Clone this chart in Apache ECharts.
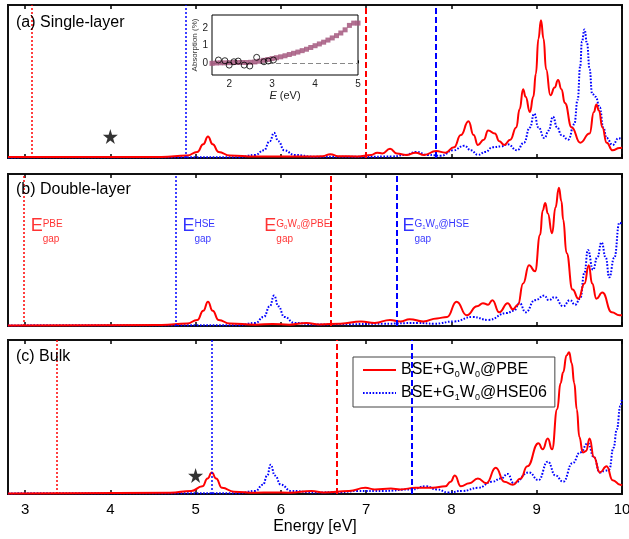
<!DOCTYPE html>
<html lang="en">
<head>
<meta charset="UTF-8">
<title>BSE absorption spectra</title>
<style type="text/css">
	body{margin:0;background:#fff}
	#main{width:629px;height:539px}
</style>
<script src="https://cdn.jsdelivr.net/npm/echarts@6.0.0/dist/echarts.min.js"></script>
</head>
<body>
<div id="main"></div>
<script type="text/javascript">
var FONT = 'Liberation Sans, Arial, sans-serif';
var RED = '#ff0000', BLUE = '#0000ff';

var xTicks = [3, 4, 5, 6, 7, 8, 9, 10];
var panelNames = ['(a) Single-layer', '(b) Double-layer', '(c) Bulk'];
var nameA = 'BSE+G0W0@PBE', nameB = 'BSE+G1W0@HSE06';

// spectra, [energy eV, intensity as fraction of panel height]
var pbeA = [[2.8,0.006],[4.6,0.007],[4.9,0.016],[5.02,0.04],[5.09,0.09],[5.145,0.14],[5.2,0.09],[5.27,0.04],[5.4,0.016],[5.7,0.009],[6.3,0.009],[6.49,0.012],[6.58,0.025],[6.67,0.012],[6.9,0.01],[7.06,0.02],[7.13,0.035],[7.19,0.03],[7.28,0.06],[7.36,0.03],[7.47,0.02],[7.58,0.035],[7.68,0.02],[7.82,0.045],[7.93,0.035],[8.03,0.07],[8.11,0.15],[8.2,0.24],[8.26,0.15],[8.31,0.085],[8.38,0.12],[8.43,0.18],[8.51,0.16],[8.56,0.11],[8.62,0.085],[8.69,0.12],[8.76,0.2],[8.8,0.32],[8.84,0.45],[8.87,0.4],[8.92,0.30],[8.96,0.4],[8.99,0.55],[9.02,0.78],[9.05,0.90],[9.08,0.78],[9.11,0.58],[9.16,0.41],[9.21,0.46],[9.25,0.51],[9.29,0.45],[9.33,0.36],[9.41,0.20],[9.51,0.10],[9.62,0.16],[9.67,0.3],[9.7,0.35],[9.73,0.31],[9.77,0.2],[9.82,0.10],[9.89,0.05],[9.97,0.065],[10,0.07]];
var hseA = [[2.8,0.004],[5.5,0.005],[5.7,0.02],[5.8,0.05],[5.87,0.11],[5.92,0.165],[5.97,0.11],[6.04,0.05],[6.16,0.02],[6.4,0.008],[7.0,0.008],[7.3,0.01],[7.46,0.02],[7.59,0.04],[7.72,0.02],[7.88,0.015],[8.02,0.05],[8.15,0.08],[8.23,0.05],[8.31,0.02],[8.4,0.04],[8.48,0.07],[8.58,0.075],[8.66,0.09],[8.77,0.05],[8.85,0.1],[8.92,0.2],[8.97,0.29],[9.02,0.2],[9.09,0.13],[9.14,0.18],[9.19,0.27],[9.24,0.2],[9.29,0.15],[9.37,0.12],[9.44,0.22],[9.48,0.38],[9.51,0.6],[9.53,0.76],[9.56,0.84],[9.59,0.75],[9.62,0.58],[9.65,0.42],[9.69,0.40],[9.74,0.33],[9.78,0.2],[9.82,0.13],[9.89,0.085],[9.96,0.13],[10,0.12]];
var pbeB = [[2.8,0.004],[4.6,0.006],[4.9,0.016],[5.02,0.04],[5.09,0.1],[5.145,0.16],[5.2,0.1],[5.27,0.04],[5.4,0.016],[5.7,0.009],[5.9,0.013],[6.1,0.009],[6.3,0.02],[6.45,0.01],[6.7,0.015],[6.94,0.03],[7.1,0.02],[7.28,0.04],[7.4,0.03],[7.51,0.045],[7.67,0.03],[7.83,0.05],[7.95,0.06],[8.06,0.16],[8.18,0.07],[8.3,0.13],[8.37,0.15],[8.43,0.14],[8.48,0.17],[8.56,0.09],[8.66,0.15],[8.72,0.11],[8.78,0.14],[8.84,0.28],[8.91,0.40],[8.98,0.36],[9.04,0.6],[9.07,0.76],[9.1,0.81],[9.13,0.74],[9.18,0.61],[9.22,0.78],[9.26,0.91],[9.29,0.82],[9.31,0.7],[9.35,0.48],[9.42,0.24],[9.49,0.18],[9.56,0.28],[9.61,0.40],[9.65,0.28],[9.7,0.18],[9.77,0.22],[9.88,0.09],[9.97,0.07],[10,0.07]];
var hseB = [[2.8,0.004],[5.5,0.005],[5.7,0.02],[5.8,0.06],[5.87,0.13],[5.92,0.20],[5.97,0.13],[6.04,0.06],[6.16,0.02],[6.4,0.01],[6.8,0.012],[7.2,0.015],[7.6,0.02],[7.8,0.015],[8.03,0.03],[8.25,0.06],[8.43,0.04],[8.65,0.085],[8.73,0.1],[8.8,0.15],[8.87,0.09],[8.98,0.17],[9.09,0.2],[9.14,0.17],[9.21,0.19],[9.31,0.13],[9.39,0.17],[9.45,0.14],[9.51,0.18],[9.56,0.35],[9.6,0.5],[9.66,0.37],[9.71,0.45],[9.76,0.55],[9.81,0.45],[9.85,0.32],[9.91,0.45],[9.97,0.68],[10,0.67]];
var pbeC = [[2.8,0.004],[4.7,0.008],[4.95,0.02],[5.08,0.05],[5.14,0.1],[5.19,0.14],[5.24,0.1],[5.31,0.04],[5.45,0.015],[5.7,0.008],[5.9,0.01],[6.1,0.008],[6.36,0.02],[6.5,0.01],[6.8,0.02],[6.99,0.04],[7.1,0.03],[7.29,0.035],[7.4,0.03],[7.58,0.04],[7.78,0.04],[7.93,0.05],[7.99,0.08],[8.04,0.12],[8.11,0.05],[8.21,0.07],[8.31,0.10],[8.41,0.07],[8.52,0.17],[8.62,0.08],[8.72,0.06],[8.81,0.10],[8.89,0.18],[9.02,0.33],[9.07,0.29],[9.13,0.36],[9.18,0.29],[9.24,0.55],[9.28,0.72],[9.31,0.79],[9.35,0.9],[9.38,0.92],[9.41,0.85],[9.44,0.72],[9.47,0.55],[9.5,0.37],[9.54,0.27],[9.58,0.28],[9.62,0.36],[9.67,0.24],[9.74,0.14],[9.82,0.18],[9.89,0.09],[9.98,0.06],[10,0.055]];
var hseC = [[2.8,0.004],[5.5,0.005],[5.7,0.02],[5.79,0.06],[5.84,0.12],[5.88,0.19],[5.93,0.12],[6.0,0.06],[6.12,0.02],[6.4,0.01],[6.7,0.012],[6.9,0.02],[7.2,0.02],[7.53,0.03],[7.7,0.05],[7.83,0.03],[7.96,0.01],[8.13,0.02],[8.31,0.04],[8.48,0.08],[8.58,0.1],[8.66,0.13],[8.73,0.07],[8.91,0.14],[9.02,0.09],[9.13,0.21],[9.22,0.12],[9.31,0.08],[9.42,0.2],[9.51,0.27],[9.6,0.33],[9.67,0.24],[9.74,0.14],[9.8,0.15],[9.85,0.16],[9.9,0.3],[9.94,0.42],[9.98,0.57],[10,0.62]];

// band gaps: PBE, HSE, G0W0@PBE, G1W0@HSE
var gapA = [3.085, 4.875, 6.985, 7.82];
var gapB = [2.99, 4.77, 6.58, 7.36];
var gapC = [3.37, 5.19, 6.65, 7.53];

var starA = [[4.0, 0.14]];
var starC = [[5.0, 0.12]];

// gap labels in panel (b): [energy, height, superscript]
var notes = [[3.06, 0.62, 'PBE'], [4.84, 0.62, 'HSE'], [5.80, 0.62, 'G0W0@PBE'], [7.42, 0.62, 'G1W0@HSE']];
var noteColors = [RED, BLUE, RED, BLUE];

// inset: measured absorption (%)
var expE = [1.6,1.7,1.8,1.9,2.0,2.1,2.2,2.3,2.4,2.5,2.6,2.7,2.8,2.9,3.0,3.1,3.2,3.3,3.4,3.5,3.6,3.7,3.8,3.9,4.0,4.1,4.2,4.3,4.4,4.5,4.6,4.7,4.8,4.9,5.0];
var expAbs = [0.0,0.02,0.03,0.03,0.04,0.05,0.05,0.05,0.05,0.06,0.08,0.12,0.17,0.22,0.27,0.32,0.37,0.43,0.5,0.57,0.64,0.72,0.8,0.9,1.0,1.1,1.2,1.32,1.44,1.57,1.72,1.9,2.15,2.28,2.28];
var circE = [1.75,1.90,2.0,2.11,2.21,2.35,2.48,2.64,2.81,2.91,3.03];
var circAbs = [0.19,0.15,-0.1,0.09,0.13,-0.1,-0.15,0.34,0.09,0.13,0.19];

var pbe = [pbeA, pbeB, pbeC], hse = [hseA, hseB, hseC], gaps = [gapA, gapB, gapC];
var gapStyles = [
	{color: RED, type: [2, 2], width: 1.5},
	{color: BLUE, type: [2, 2], width: 1.5},
	{color: RED, type: [6, 3], width: 2},
	{color: BLUE, type: [6, 3], width: 2}
];
var panelTop = [5, 174, 340], panelH = [153, 152, 154], titleTop = [15, 182, 349];

var grid = [], xAxis = [], yAxis = [], series = [], title = [];
for (var i = 0; i < 3; i++) {
	grid.push({left: 8, top: panelTop[i], width: 614, height: panelH[i], show: true, borderColor: '#111', borderWidth: 2, outerBoundsMode: 'none'});
	xAxis.push({
		gridIndex: i, type: 'value', min: 2.8, max: 10, position: 'bottom',
		axisLine: {show: false}, splitLine: {show: false},
		axisTick: {inside: true, length: 4, customValues: xTicks, lineStyle: {color: '#000', width: 1.5}},
		axisLabel: {show: i == 2, customValues: xTicks, fontSize: 15, color: '#000', margin: 8, fontFamily: FONT},
		name: i == 2 ? 'Energy [eV]' : '', nameLocation: 'middle', nameGap: 25,
		nameTextStyle: {fontSize: 16, color: '#000', fontFamily: FONT}
	});
	yAxis.push({gridIndex: i, type: 'value', min: 0, max: 1, axisLine: {show: false}, axisTick: {show: false}, axisLabel: {show: false}, splitLine: {show: false}});
	title.push({text: panelNames[i], left: 16, top: titleTop[i], padding: 0,
		textStyle: {fontSize: 16, fontWeight: 'normal', color: '#000', fontFamily: FONT}});
}
// ticks along the top edge
for (var i = 0; i < 3; i++) {
	xAxis.push({
		gridIndex: i, type: 'value', min: 2.8, max: 10, position: 'top',
		axisLine: {show: false}, splitLine: {show: false}, axisLabel: {show: false},
		axisTick: {inside: true, length: 4, customValues: xTicks, lineStyle: {color: '#000', width: 1.5}}
	});
}

for (var i = 0; i < 3; i++) {
	series.push({
		type: 'line', name: nameB, xAxisIndex: i, yAxisIndex: i, data: hse[i],
		symbol: 'none', smooth: 0.5, smoothMonotone: 'x', z: 2,
		lineStyle: {color: BLUE, width: 2, type: [1.6, 1.6]}, itemStyle: {color: BLUE}
	});
	series.push({
		type: 'line', name: nameA, xAxisIndex: i, yAxisIndex: i, data: pbe[i],
		symbol: 'none', smooth: 0.5, smoothMonotone: 'x', z: 3,
		lineStyle: {color: RED, width: 2}, itemStyle: {color: RED},
		markLine: {
			symbol: ['none', 'none'], silent: true, animation: false, label: {show: false},
			data: gaps[i].map(function (g, k) { return {xAxis: g, lineStyle: gapStyles[k]}; })
		}
	});
}

var starPath = 'path://M50,0 L61,35 L98,35 L68,57 L79,91 L50,70 L21,91 L32,57 L2,35 L39,35 Z';
series.push({type: 'scatter', xAxisIndex: 0, yAxisIndex: 0, data: starA, symbol: starPath, symbolSize: 15, itemStyle: {color: '#000'}, z: 5});
series.push({type: 'scatter', xAxisIndex: 2, yAxisIndex: 2, data: starC, symbol: starPath, symbolSize: 15, itemStyle: {color: '#000'}, z: 5});

function supText(s) {
	return '{s|' + s.replace(/([GW])(\d)/g, '$1}{ss|$2}{s|') + '}';
}
series.push({
	type: 'scatter', xAxisIndex: 1, yAxisIndex: 1, symbolSize: 1, z: 6,
	itemStyle: {color: 'transparent'},
	data: notes.map(function (n, k) {
		return {
			value: [n[0], n[1]],
			label: {
				show: true, position: 'right', distance: 0, color: noteColors[k], fontFamily: FONT,
				formatter: '{e|E}' + supText(n[2]) + '\n{g|gap}',
				rich: {
					e: {fontSize: 18, lineHeight: 14, color: noteColors[k], fontFamily: FONT},
					s: {fontSize: 10, lineHeight: 10, verticalAlign: 'top', color: noteColors[k], fontFamily: FONT},
					ss: {fontSize: 6, lineHeight: 6, verticalAlign: 'top', padding: [6, 0, 0, 0], color: noteColors[k], fontFamily: FONT},
					g: {fontSize: 10, lineHeight: 12, padding: [0, 0, 0, 12], color: noteColors[k], fontFamily: FONT}
				}
			}
		};
	})
});

// inset
grid.push({left: 212, top: 15, width: 146, height: 60, show: true, borderColor: '#000', borderWidth: 1, backgroundColor: '#fff', z: 4, outerBoundsMode: 'none'});
xAxis.push({
	gridIndex: 3, type: 'value', min: 1.6, max: 5, axisLine: {show: false}, splitLine: {show: false},
	axisTick: {inside: true, length: 3, customValues: [2, 3, 4, 5], lineStyle: {color: '#000'}},
	axisLabel: {customValues: [2, 3, 4, 5], fontSize: 10, color: '#222', margin: 4, fontFamily: FONT},
	name: '{i|E} (eV)', nameLocation: 'middle', nameGap: 15,
	nameTextStyle: {fontSize: 11, color: '#222', fontFamily: FONT, rich: {i: {fontStyle: 'italic', fontSize: 11, fontFamily: FONT}}}
});
yAxis.push({
	gridIndex: 3, type: 'value', min: -0.66, max: 2.74, axisLine: {show: false}, splitLine: {show: false},
	axisTick: {inside: true, length: 3, customValues: [0, 1, 2], lineStyle: {color: '#000'}},
	axisLabel: {customValues: [0, 1, 2], fontSize: 10, color: '#222', margin: 4, fontFamily: FONT},
	name: 'Absorption (%)', nameLocation: 'middle', nameGap: 12,
	nameTextStyle: {fontSize: 8, color: '#333', fontFamily: FONT}
});
series.push({
	type: 'scatter', xAxisIndex: 6, yAxisIndex: 3, symbol: 'rect', symbolSize: 5, z: 5,
	data: expE.map(function (e, k) { return [e, expAbs[k]]; }),
	itemStyle: {color: '#a4587f', opacity: 0.85},
	markLine: {
		symbol: ['none', 'none'], silent: true, animation: false, label: {show: false},
		data: [{yAxis: 0}], lineStyle: {color: '#888', type: [5, 3], width: 1}
	}
});
series.push({
	type: 'scatter', xAxisIndex: 6, yAxisIndex: 3, symbol: 'circle', symbolSize: 6, z: 6,
	data: circE.map(function (e, k) { return [e, circAbs[k]]; }),
	itemStyle: {color: 'transparent', borderColor: '#000', borderWidth: 1}
});

var myChart = echarts.init(document.getElementById('main'));
myChart.setOption({
	animation: false,
	title: title,
	grid: grid,
	xAxis: xAxis,
	yAxis: yAxis,
	legend: {
		left: 353, top: 357, orient: 'vertical', data: [nameA, nameB],
		itemWidth: 33, itemHeight: 10, itemGap: 6, padding: [5, 8, 5, 9],
		borderColor: '#444', borderWidth: 1, backgroundColor: '#fff',
		itemStyle: {opacity: 0},
		textStyle: {fontSize: 16, color: '#000', fontFamily: FONT,
			rich: {s: {fontSize: 9, padding: [9, 0, 0, 0], fontFamily: FONT}}},
		formatter: function (n) { return n.replace(/([GW])(\d)/g, '$1{s|$2}'); }
	},
	series: series
});
</script>
</body>
</html>
